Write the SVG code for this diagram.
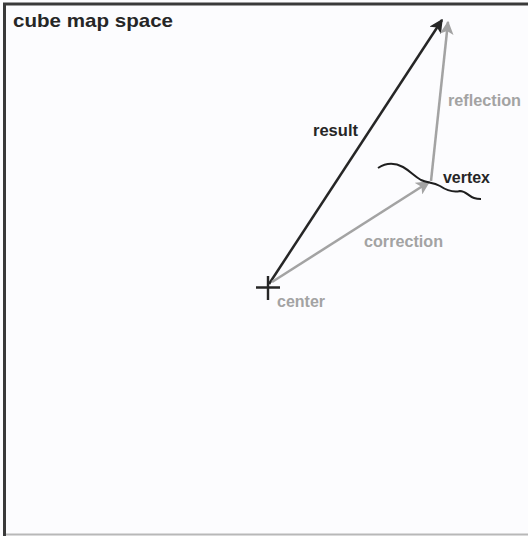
<svg xmlns="http://www.w3.org/2000/svg" width="528" height="536" viewBox="0 0 528 536">
<style>
.lbl{font-family:"Liberation Sans",Arial,sans-serif;font-weight:bold;font-size:16px}
.title{font-size:19px}
.dark{fill:#262626}
.gray{fill:#a3a3a3}
.vec{fill:none;stroke-width:2.5}
</style>
<defs>
<marker id="ahD" viewBox="0 0 10 10" refX="9" refY="5" markerWidth="5.5" markerHeight="5.5" orient="auto" markerUnits="strokeWidth"><path d="M0,0 L10,5 L0,10 L2.5,5 z" fill="#262626"/></marker>
<marker id="ahG" viewBox="0 0 10 10" refX="9" refY="5" markerWidth="5.5" markerHeight="5.5" orient="auto" markerUnits="strokeWidth"><path d="M0,0 L10,5 L0,10 L2.5,5 z" fill="#a3a3a3"/></marker>
</defs>
<rect x="0" y="0" width="528" height="536" fill="#fcfcfe"/>
<g id="frame">
<line x1="3" y1="4" x2="528" y2="4" stroke="#3a3a3a" stroke-width="3"/>
<line x1="4.5" y1="3" x2="4.5" y2="536" stroke="#3a3a3a" stroke-width="3"/>
<line x1="6" y1="534.5" x2="528" y2="534.5" stroke="#b8b8b8" stroke-width="2"/>
</g>
<text class="lbl title dark" x="13" y="27" textLength="160" lengthAdjust="spacingAndGlyphs">cube map space</text>
<g id="connectors">
<line class="vec" x1="269" y1="284" x2="442" y2="20" stroke="#262626" marker-end="url(#ahD)"/>
<line class="vec" x1="272" y1="282" x2="429" y2="182" stroke="#a3a3a3" marker-end="url(#ahG)"/>
<line class="vec" x1="431" y1="181" x2="448" y2="22" stroke="#a3a3a3" marker-end="url(#ahG)"/>
</g>
<g id="center">
<path d="M256,287.5 H280 M268,276 V300" stroke="#262626" stroke-width="2.4" fill="none"/>
<text class="lbl gray" x="277" y="307" textLength="48" lengthAdjust="spacingAndGlyphs">center</text>
</g>
<g id="vertex">
<path d="M378,168 C384,164 392,161 403,167 C410,171 414,176 421,180 C427,183 433,182 440,186 C446,190 452,193 460,191 C466,191 468,196 474,198 C477,199 479,199 481,199" fill="none" stroke="#1e1e1e" stroke-width="2"/>
<text class="lbl dark" x="443" y="183" textLength="47" lengthAdjust="spacingAndGlyphs">vertex</text>
</g>
<text class="lbl dark" x="313" y="136" textLength="45" lengthAdjust="spacingAndGlyphs">result</text>
<text class="lbl gray" x="448" y="106" textLength="73" lengthAdjust="spacingAndGlyphs">reflection</text>
<text class="lbl gray" x="364" y="247" textLength="79" lengthAdjust="spacingAndGlyphs">correction</text>
</svg>
